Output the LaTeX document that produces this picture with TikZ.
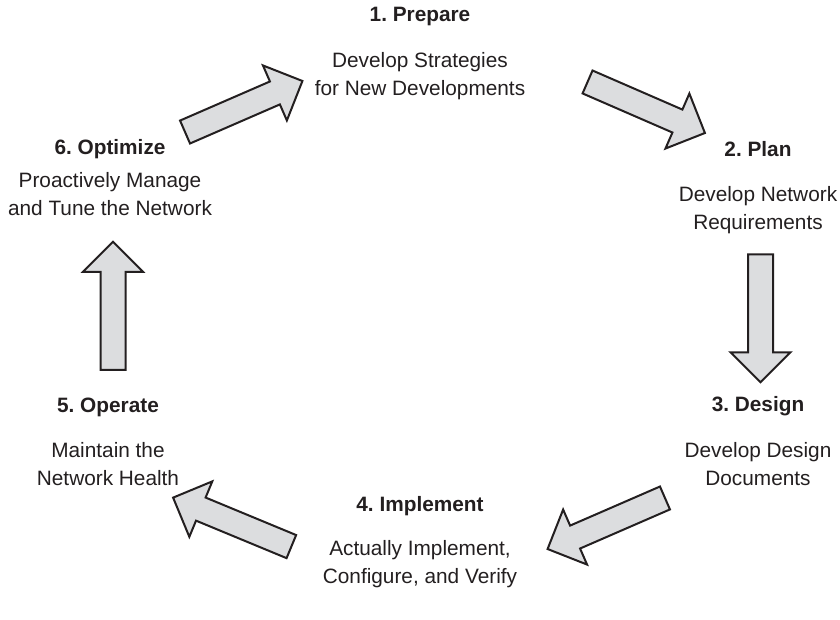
\documentclass[tikz,border=0pt]{standalone}
\usepackage{fontspec}
\setmainfont{Liberation Sans}
\usetikzlibrary{shapes.arrows}
\frenchspacing

\definecolor{arrowgray}{HTML}{DCDDDF}
\definecolor{inkgray}{HTML}{231F20}

\tikzstyle{stage} = [text=inkgray, font=\fontsize{10.4}{14}\selectfont\bfseries]
\tikzstyle{desc} = [text=inkgray, align=center, font=\fontsize{10.4}{14}\selectfont]
\tikzstyle{bigarrow} = [single arrow, draw=inkgray, fill=arrowgray, line width=1pt, miter limit=20, inner xsep=0pt, inner ysep=5.75pt, single arrow head extend=8.75pt, single arrow tip angle=90, minimum height=64pt]

\begin{document}
\begin{tikzpicture}[x=0.5pt, y=-0.5pt]

\useasboundingbox (0,0) rectangle (840,620);

\node [stage] (prep) at (420,17) {1. Prepare};
\node [desc] (prepd) at (420,76.5) {Develop Strategies\\for New Developments};

\node [stage] (plan) at (758,149) {2. Plan};
\node [desc] (pland) at (758,210) {Develop Network\\Requirements};

\node [stage] (design) at (758,406) {3. Design};
\node [desc] (designd) at (758,464.5) {Develop Design\\Documents};

\node [stage] (impl) at (420,506) {4. Implement};
\node [desc] (impld) at (420,564.5) {Actually Implement,\\Configure, and Verify};

\node [stage] (oper) at (108,407) {5. Operate};
\node [desc] (operd) at (108,464.5) {Maintain the\\Network Health};

\node [stage] (opt) at (110,149) {6. Optimize};
\node [desc] (optd) at (110,194) {Proactively Manage\\and Tune the Network};

\node [bigarrow, rotate=23.5] (toprep) at (238,109) {};
\node [bigarrow, rotate=-23.5] (toplan) at (640.5,105) {};
\node [bigarrow, rotate=-90] (todesign) at (760.5,312) {};
\node [bigarrow, rotate=203.5] (toimpl) at (612,521) {};
\node [bigarrow, rotate=157.5] (tooper) at (238,524.5) {};
\node [bigarrow, rotate=90] (toopt) at (113,312) {};

\end{tikzpicture}
\end{document}
